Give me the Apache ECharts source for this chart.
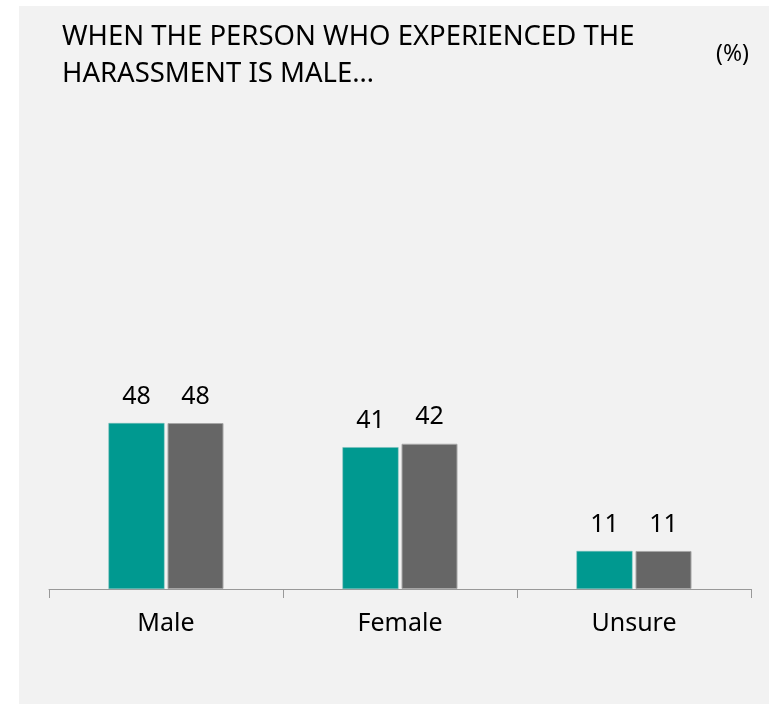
<!DOCTYPE html>
<html><head><meta charset="utf-8">
<script src="https://cdn.jsdelivr.net/npm/echarts@6/dist/echarts.min.js"></script>
<style>html,body{margin:0;padding:0;background:#fff}#c{width:769px;height:704px}</style>
</head><body><div id="c"></div>
<script>
const categories = ["Male", "Female", "Unsure"];
const seriesA = [48, 41, 11];
const seriesB = [48, 42, 11];
const titleText = "WHEN THE PERSON WHO EXPERIENCED THE\nHARASSMENT IS MALE…";
const unitText = "(%)";

const FONT = "Noto Sans";
const chart = echarts.init(document.getElementById('c'));
chart.setOption({
  animation: false,
  backgroundColor: '#ffffff',
  graphic: [{
    type: 'rect', z: -10, silent: true,
    shape: {x: 19, y: 6, width: 750, height: 698},
    style: {fill: '#f2f2f2'}
  }],
  title: [{
    text: titleText, left: 57, top: 14,
    textStyle: {fontFamily: FONT, fontSize: 27.5, fontWeight: 'normal', color: '#000', lineHeight: 37}
  }, {
    text: unitText, left: 711, top: 38,
    textStyle: {fontFamily: FONT, fontSize: 23, fontWeight: 'normal', color: '#000'}
  }],
  grid: {left: 49, right: 18, top: 243.2, bottom: 115, containLabel: false},
  xAxis: {
    type: 'category', data: categories,
    axisLine: {lineStyle: {color: '#999999', width: 1}},
    axisTick: {show: true, length: 9, lineStyle: {color: '#999999'}},
    axisLabel: {fontFamily: FONT, fontSize: 25, color: '#000', margin: 22}
  },
  yAxis: {type: 'value', min: 0, max: 100, show: false, splitLine: {show: false}},
  series: [{
    name: 'Series 1', type: 'bar', data: seriesA, barWidth: 56, barGap: '5.4%',
    itemStyle: {color: '#009990', borderColor: '#7fbfbb', borderWidth: 0.5},
    label: {show: true, position: 'top', distance: 14, fontFamily: FONT, fontSize: 25, color: '#000'}
  }, {
    name: 'Series 2', type: 'bar', data: seriesB, barWidth: 56,
    itemStyle: {color: '#666666', borderColor: '#a6a6a6', borderWidth: 1},
    label: {show: true, position: 'top', distance: 14, fontFamily: FONT, fontSize: 25, color: '#000'}
  }]
});
</script></body></html>
